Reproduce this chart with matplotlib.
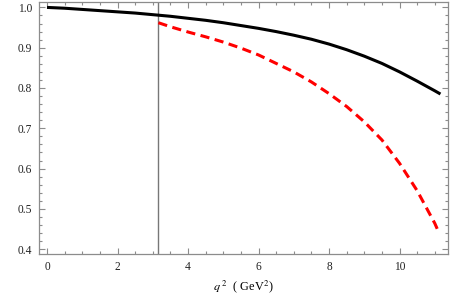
import numpy as np
import matplotlib
matplotlib.use("Agg")
import matplotlib.pyplot as plt
from matplotlib.ticker import MultipleLocator, FormatStrFormatter

plt.rcParams['font.family'] = ['Liberation Serif', 'DejaVu Serif']
plt.rcParams['mathtext.fontset'] = 'stix'

# --- donnees ---
q2_black = [0.0, 0.5, 1.0, 1.5, 2.0, 2.5, 3.0, 3.5, 4.0, 4.5, 5.0, 5.5, 6.0, 6.5,
            7.0, 7.5, 8.0, 8.5, 9.0, 9.5, 10.0, 10.5, 11.0, 11.16]
ff_black = [1.0, 0.998, 0.995, 0.992, 0.989, 0.986, 0.982, 0.978, 0.973, 0.968,
            0.962, 0.955, 0.948, 0.940, 0.931, 0.921, 0.909, 0.895, 0.879, 0.861,
            0.840, 0.817, 0.793, 0.785]

q2_red = [3.16, 3.5, 4.0, 4.5, 5.0, 5.5, 6.0, 6.5, 7.0, 7.5, 8.0, 8.5, 9.0,
          9.5, 10.0, 10.5, 11.0, 11.12]
ff_red = [0.962, 0.952, 0.939, 0.927, 0.914, 0.899, 0.882, 0.861, 0.840, 0.815,
          0.786, 0.754, 0.716, 0.671, 0.613, 0.545, 0.464, 0.440]

q2_cut = 3.16
x_ticks = [0, 2, 4, 6, 8, 10]
y_ticks = [0.4, 0.5, 0.6, 0.7, 0.8, 0.9, 1.0]

FRAME = '#8c8c8c'

fig = plt.figure(figsize=(4.5, 2.96), dpi=100)
ax = fig.add_axes([0.087, 0.142, 0.909, 0.852])

ax.plot(q2_black, ff_black, color='black', lw=2.2, solid_capstyle='butt', zorder=3)
ax.plot(q2_red, ff_red, color='#ff0000', lw=2.2, dashes=(3, 1.8), zorder=3)
ax.axvline(q2_cut, color='#777777', lw=1.0, zorder=2)

ax.set_xlim(-0.223, 11.38)
ax.set_ylim(0.388, 1.014)

ax.set_xticks(x_ticks)
ax.set_yticks(y_ticks)
ax.xaxis.set_minor_locator(MultipleLocator(0.5))
ax.yaxis.set_minor_locator(MultipleLocator(0.02))
ax.yaxis.set_major_formatter(FormatStrFormatter('%.1f'))

for s in ax.spines.values():
    s.set_color(FRAME)
    s.set_linewidth(0.9)

ax.tick_params(which='both', direction='in', top=True, right=True,
               color=FRAME, width=0.8, labelsize=8.3, labelcolor='#222222')
ax.tick_params(which='major', length=4, pad=5)
ax.tick_params(which='minor', length=2.3)

ax.set_xlabel(r"$q^{\ 2}$  ( GeV$^2$)", fontsize=8.8, labelpad=4)

fig.savefig("out.png", dpi=100)
